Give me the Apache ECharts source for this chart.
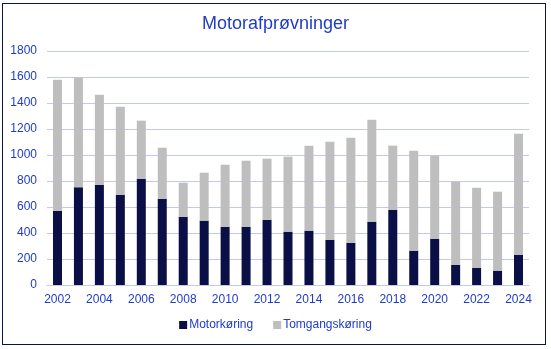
<!DOCTYPE html>
<html>
<head>
<meta charset="utf-8">
<script src="https://cdn.jsdelivr.net/npm/echarts@6/dist/echarts.min.js"></script>
<style>
html,body{margin:0;padding:0;background:#fff;}
#frame{position:absolute;left:2px;top:3px;width:542px;height:340px;border:1px solid #0B1446;}
#chart{position:absolute;left:0;top:0;width:551px;height:349px;}
</style>
</head>
<body>
<div id="frame"></div>
<div id="chart"></div>
<script>
var years = ['2002','2003','2004','2005','2006','2007','2008','2009','2010','2011','2012','2013','2014','2015','2016','2017','2018','2019','2020','2021','2022','2023','2024'];
var motorkoring = [571,751,772,695,818,664,525,495,448,448,502,410,418,348,325,487,579,264,356,156,133,110,233];
var totals = [1579,1597,1464,1372,1264,1056,787,864,925,956,972,987,1072,1102,1133,1272,1072,1033,995,795,748,718,1164];
var tomgangskoring = totals.map(function(t,i){return t - motorkoring[i];});

var blue = '#1F3CC8';
var chart = echarts.init(document.getElementById('chart'), null, {renderer:'canvas'});
chart.setOption({
  animation:false,
  title:{text:'Motorafprøvninger',left:'center',top:10,textStyle:{color:blue,fontFamily:'Liberation Sans',fontWeight:'normal',fontSize:18}},
  grid:{left:47,right:22,top:51,bottom:64,containLabel:false},
  legend:{bottom:13,left:'center',itemWidth:8,itemHeight:8,itemGap:20,icon:'rect',
    textStyle:{color:blue,fontFamily:'Liberation Sans',fontSize:12,padding:[0,0,0,-3]},
    data:['Motorkøring','Tomgangskøring']},
  xAxis:{type:'category',data:years,boundaryGap:true,
    axisLine:{show:true,lineStyle:{color:'#C2C8F0'}},axisTick:{show:false},
    axisLabel:{interval:1,color:blue,fontFamily:'Liberation Sans',fontSize:12,margin:9}},
  yAxis:{type:'value',min:0,max:1800,interval:200,
    axisLine:{show:false},axisTick:{show:false},
    splitLine:{lineStyle:{color:'#C2C8F0'}},
    axisLabel:{color:blue,fontFamily:'Liberation Sans',fontSize:12,margin:10,formatter:function(v){return String(v);}}},
  series:[
    {name:'Motorkøring',type:'bar',stack:'a',data:motorkoring,barWidth:9,itemStyle:{color:'#0A1045'}},
    {name:'Tomgangskøring',type:'bar',stack:'a',data:tomgangskoring,barWidth:9,itemStyle:{color:'#BEBEBE'}}
  ]
});
</script>
</body>
</html>
